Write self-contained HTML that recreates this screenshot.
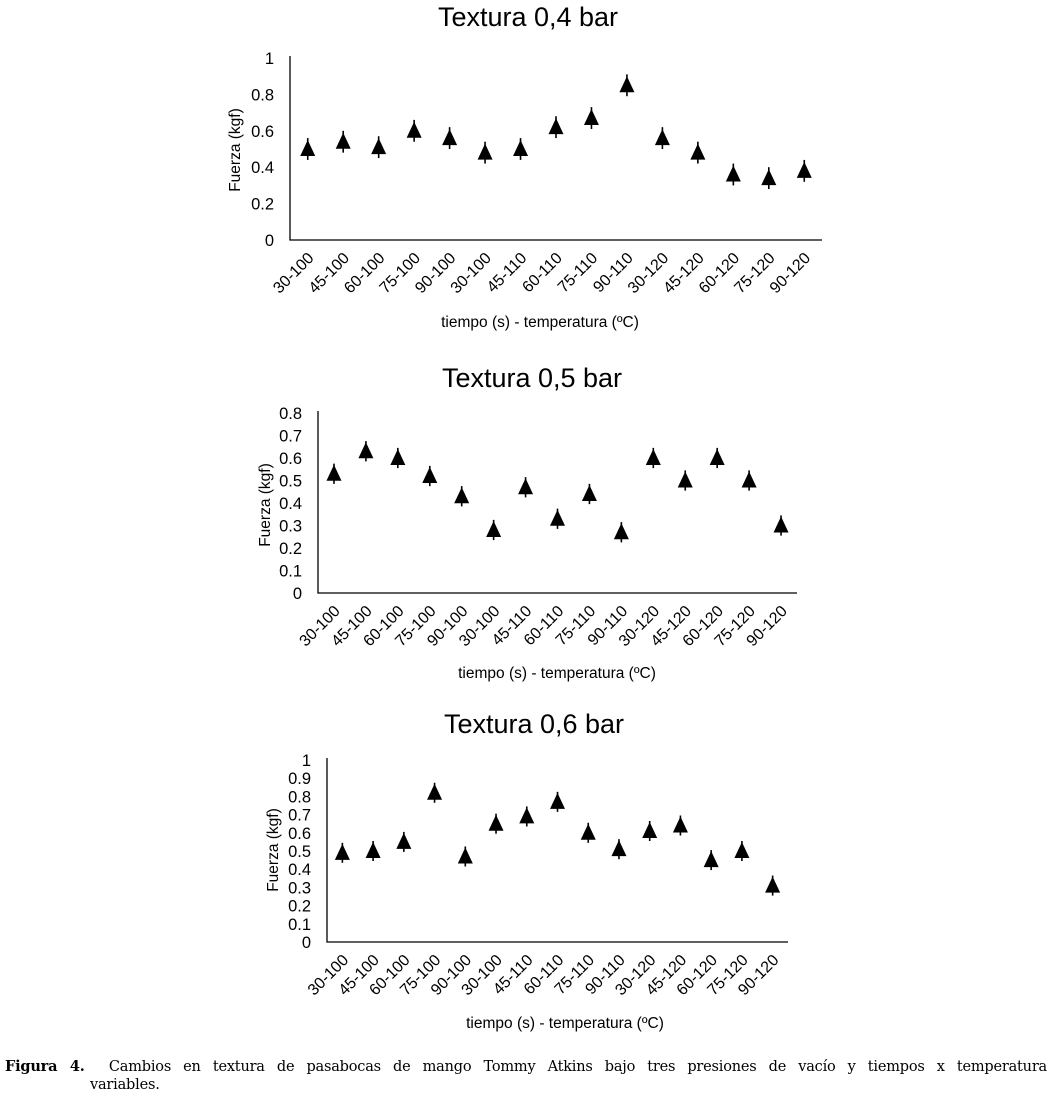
<!DOCTYPE html>
<html><head><meta charset="utf-8"><style>
body{margin:0;background:#fff;width:1052px;height:1100px;overflow:hidden;position:relative;font-family:"Liberation Sans",Arial,sans-serif}
svg{position:absolute;left:0;top:0}
.cap{position:absolute;left:5px;top:1058px;width:1042px;font-family:"DejaVu Serif",serif;font-size:14.5px;line-height:18px;color:#000;letter-spacing:-0.2px}
</style></head><body>
<svg id="fig" width="1052" height="1100"></svg>
<div class="cap"><div style="text-align:justify;text-align-last:justify"><b>Figura 4.</b>&nbsp; Cambios en textura de pasabocas de mango Tommy Atkins bajo tres presiones de vacío y tiempos x temperatura</div><div style="padding-left:85px">variables.</div></div>
<script>
const categories=["30-100","45-100","60-100","75-100","90-100","30-100","45-110","60-110","75-110","90-110","30-120","45-120","60-120","75-120","90-120"];
const values04=[0.50,0.54,0.51,0.60,0.56,0.48,0.50,0.62,0.67,0.85,0.56,0.48,0.36,0.34,0.38];
const err04=[0.06,0.06,0.06,0.06,0.06,0.06,0.06,0.06,0.06,0.06,0.06,0.06,0.06,0.06,0.06];
const values05=[0.53,0.63,0.60,0.52,0.43,0.28,0.47,0.33,0.44,0.27,0.60,0.50,0.60,0.50,0.30];
const err05=[0.045,0.045,0.045,0.045,0.045,0.045,0.045,0.045,0.045,0.045,0.045,0.045,0.045,0.045,0.045];
const values06=[0.49,0.50,0.55,0.82,0.47,0.65,0.69,0.77,0.60,0.51,0.61,0.64,0.45,0.50,0.31];
const err06=[0.055,0.055,0.055,0.055,0.055,0.055,0.055,0.055,0.055,0.055,0.055,0.055,0.055,0.055,0.055];
const ticks04=["0","0.2","0.4","0.6","0.8","1"];
const ticks05=["0","0.1","0.2","0.3","0.4","0.5","0.6","0.7","0.8"];
const ticks06=["0","0.1","0.2","0.3","0.4","0.5","0.6","0.7","0.8","0.9","1"];
const NS="http://www.w3.org/2000/svg";
const svg=document.getElementById('fig');
function mk(tag,attrs,parent){const e=document.createElementNS(NS,tag);for(const k in attrs)e.setAttribute(k,attrs[k]);(parent||svg).appendChild(e);return e;}
function chart(cfg){
  const g=mk('g',{});
  
  
  const ymax=+cfg.ticks[cfg.ticks.length-1];
  const y=v=>cfg.y0-(v/ymax)*(cfg.y0-cfg.y1);
  const bw=(cfg.x1-cfg.x0)/categories.length;
  const x=i=>cfg.x0+bw*(i+0.5);
  const t=mk('text',{x:cfg.tx,y:cfg.ty,'font-size':27,'text-anchor':'middle'},g);t.textContent=cfg.title;
  
  
  const ax=mk('path',{d:`M${cfg.x0} ${cfg.y1-2}V${cfg.y0}H${cfg.x1}`,stroke:'#000','stroke-width':1.3,fill:'none'},g);
  
  
  cfg.ticks.forEach(tk=>{const e=mk('text',{x:cfg.x0-16,y:y(+tk)+6,'font-size':16.5,'text-anchor':'end'},g);e.textContent=tk;
    
    });
  categories.forEach((c,i)=>{const e=mk('text',{x:0,y:0,'font-size':16,'text-anchor':'end',transform:`translate(${x(i)+7},${cfg.y0+19}) rotate(-45)`},g);e.textContent=c;
    
    });
  cfg.vals.forEach((v,i)=>{const cx=x(i),cy=y(v);
    const l=mk('line',{x1:cx,x2:cx,y1:y(v+cfg.err[i]),y2:y(v-cfg.err[i]),stroke:'#000','stroke-width':1.6},g);
    
    
    const p=mk('polygon',{points:`${cx},${cy-9} ${cx-7.5},${cy+7} ${cx+7.5},${cy+7}`,fill:'#000'},g);
    
    });
  const xl=mk('text',{x:cfg.xlx,y:cfg.xly,'font-size':15.5,'text-anchor':'middle'},g);xl.textContent='tiempo (s) - temperatura (ºC)';
  
  
  const yl=mk('text',{x:0,y:0,'font-size':15.5,'text-anchor':'middle',transform:`translate(${cfg.ylx},${cfg.yly}) rotate(-90)`},g);yl.textContent='Fuerza (kgf)';
  
  
}
chart({name:'chart-0-4-bar',title:'Textura 0,4 bar',tx:528,ty:26,x0:290,x1:822,y0:240,y1:58,ticks:ticks04,vals:values04,err:err04,xlx:540,xly:327,ylx:240,yly:150});
chart({name:'chart-0-5-bar',title:'Textura 0,5 bar',tx:532,ty:387,x0:318,x1:797,y0:593,y1:413,ticks:ticks05,vals:values05,err:err05,xlx:557,xly:678,ylx:270,yly:505});
chart({name:'chart-0-6-bar',title:'Textura 0,6 bar',tx:534,ty:733,x0:327,x1:788,y0:942,y1:760,ticks:ticks06,vals:values06,err:err06,xlx:565,xly:1028,ylx:278,yly:850});
</script>
</body></html>
